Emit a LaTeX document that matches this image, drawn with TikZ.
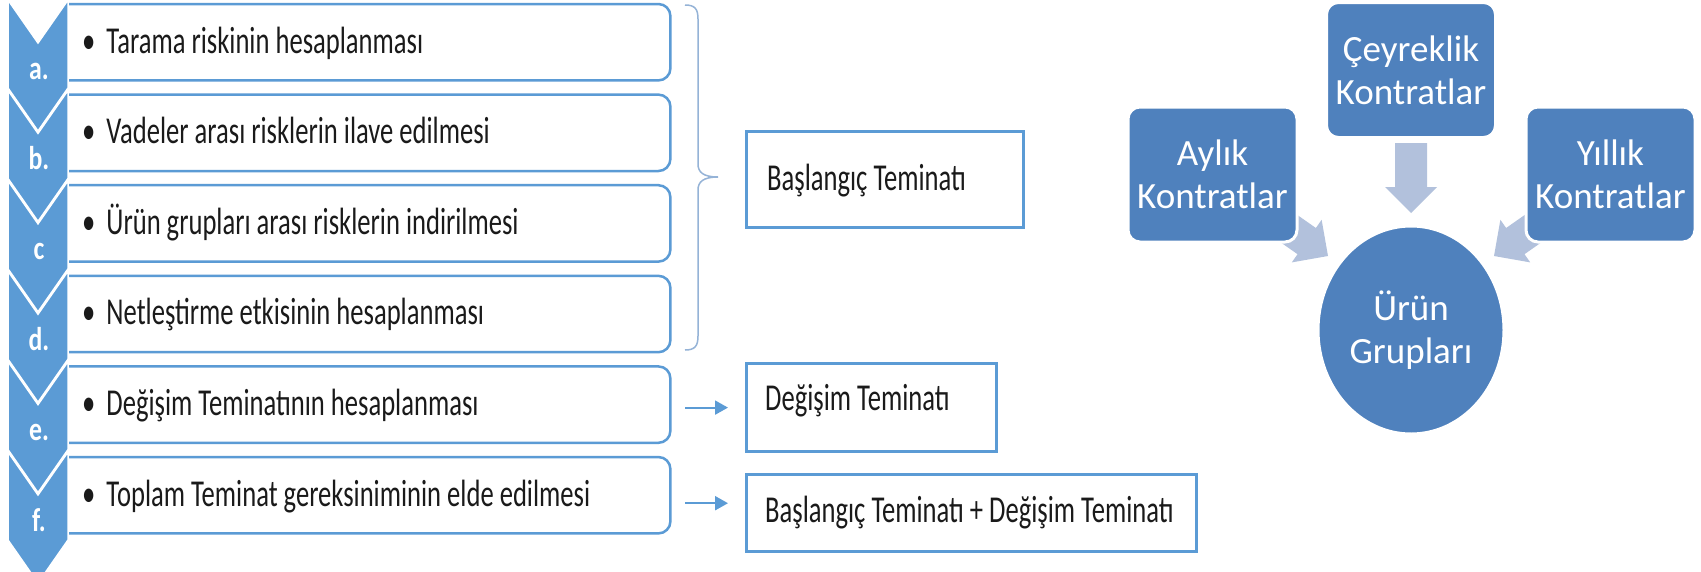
\documentclass[tikz,border=0pt]{standalone}
\usepackage{fontspec}
\setmainfont{Carlito}
\newfontfamily\stepfont[FakeStretch=0.70]{Carlito}
\newfontfamily\labfont[FakeStretch=0.78]{Carlito}
\usetikzlibrary{arrows.meta,shapes.geometric}
\definecolor{chev}{HTML}{5B9BD5}
\definecolor{boxline}{HTML}{5B9BD5}
\definecolor{bracecol}{HTML}{95B3D7}
\definecolor{smblue}{HTML}{4F81BD}
\definecolor{smarrow}{HTML}{B2C1DC}
\definecolor{txt}{HTML}{1A1A1A}
\begin{document}
\begin{tikzpicture}[x=1pt,y=-1pt,
  steptext/.style={anchor=base west, inner sep=0pt, text=txt, font=\stepfont\fontsize{38}{42}\selectfont},
  chevlabel/.style={anchor=base, inner sep=0pt, text=white, font=\labfont\bfseries\fontsize{33}{36}\selectfont},
  stepbox/.style={draw=none, minimum width=602pt, minimum height=76pt, inner sep=0pt},
  boxedge/.style={draw=boxline, line width=2.5pt, rounded corners=12pt},
  outbox/.style={draw=boxline, line width=2.5pt, anchor=north west, inner sep=0pt},
  smbox/.style={fill=smblue, draw=white, line width=3pt, rounded corners=12pt, minimum width=169pt, minimum height=135pt, text=white, align=center, inner sep=0pt, font=\fontsize{37}{43}\selectfont},
  arr/.style={draw=boxline, line width=2pt, -{Triangle[length=13pt,width=14pt]}},
  blockarrow/.style={fill=smarrow, draw=none}
]
\useasboundingbox (0,0) rectangle (1701,571);
\clip (0,0) rectangle (1701,571);
\fill[white] (0,0) rectangle (1701,571);

% ---------- vertical chevron list ----------
\foreach \k/\nm/\lab/\txt in {0/a/a./{Tarama riskinin hesaplanması},
                              1/b/b./{Vadeler arası risklerin ilave edilmesi},
                              2/c/c/{Ürün grupları arası risklerin indirilmesi},
                              3/d/d./{Netleştirme etkisinin hesaplanması},
                              4/e/e./{Değişim Teminatının hesaplanması},
                              5/f/f./{Toplam Teminat gereksiniminin elde edilmesi}}{
  \pgfmathsetmacro\bt{4+90.6*\k}
  \pgfmathsetmacro\cy{90.4*\k}
  \node[stepbox, anchor=north west] (box\nm) at (68,\bt) {};
  \draw[boxedge] (box\nm.north west) -- (box\nm.north east) -- (box\nm.south east) -- (box\nm.south west);
  \fill[chev, draw=white, line width=1.5pt] (8,\cy) -- (38,\cy+43) -- (68,\cy) -- (68,\cy+88) -- (38,\cy+131) -- (8,\cy+88) -- cycle;
  \node[chevlabel] (l\nm) at (39,\cy+79) {\lab};
  \node[steptext] (t\nm) at (82,\bt+49) {•\hspace{11pt}\txt};
}

% ---------- brace ----------
\draw[bracecol, line width=1.5pt] (685,5) .. controls (695,5) and (698,9) .. (698,19) -- (698,164)
   .. controls (698,172) and (703,177) .. (718,177)
   .. controls (703,177) and (698,182) .. (698,190) -- (698,336)
   .. controls (698,346) and (695,350) .. (685,350);

% ---------- result boxes ----------
\node[outbox, minimum width=277pt, minimum height=96pt] (bas) at (745,130) {};
\node[steptext] (tbas) at (767,190) {Başlangıç Teminatı};
\node[outbox, minimum width=250pt, minimum height=88pt] (deg) at (745,362) {};
\node[steptext] (tdeg) at (765,410) {Değişim Teminatı};
\node[outbox, minimum width=450pt, minimum height=77pt] (tot) at (745,473) {};
\node[steptext] (ttot) at (765,522) {Başlangıç Teminatı + Değişim Teminatı};

\draw[arr, shorten <=15pt, shorten >=17pt] ([yshift=-3pt]boxe.east) -- ([yshift=-3pt]boxe.east -| deg.west);
\draw[arr, shorten <=15pt, shorten >=17pt] ([yshift=-8pt]boxf.east) -- ([yshift=-8pt]boxf.east -| tot.west);

% ---------- converging radial ----------
\begin{scope}[shift={(1411,213)}, rotate=-90]
  \fill[blockarrow] (0,0) -- (-26,26) -- (-26,16) -- (-70,16) -- (-70,-16) -- (-26,-16) -- (-26,-26) -- cycle;
\end{scope}
\begin{scope}[shift={(1328,256)}, rotate=-35]
  \fill[blockarrow] (0,0) -- (-26,26) -- (-26,16) -- (-70,16) -- (-70,-16) -- (-26,-16) -- (-26,-26) -- cycle;
\end{scope}
\begin{scope}[shift={(1494,256)}, rotate=-145]
  \fill[blockarrow] (0,0) -- (-26,26) -- (-26,16) -- (-70,16) -- (-70,-16) -- (-26,-16) -- (-26,-26) -- cycle;
\end{scope}

\node[smbox] (ay) at (1212.5,174.5) {Aylık\\Kontratlar};
\node[smbox] (cey) at (1411,70) {Çeyreklik\\Kontratlar};
\node[smbox] (yil) at (1610.5,174.5) {Yıllık\\Kontratlar};
\node[ellipse, fill=smblue, draw=white, line width=3pt, minimum width=186pt, minimum height=208pt, text=white, align=center, inner sep=0pt, font=\fontsize{37}{43}\selectfont] (urun) at (1411,330) {Ürün\\Grupları};
\end{tikzpicture}
\end{document}
